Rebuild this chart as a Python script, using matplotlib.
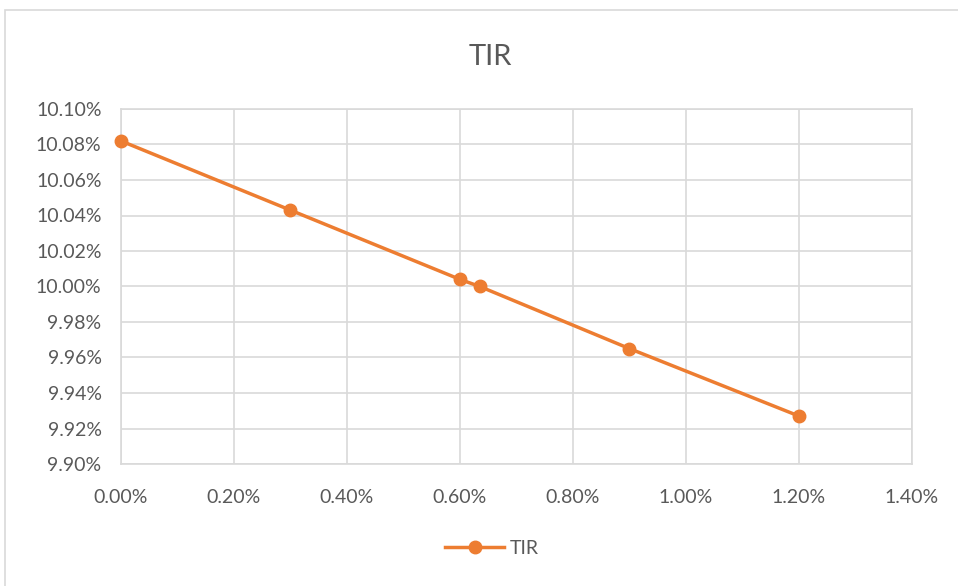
import matplotlib.pyplot as plt
from matplotlib.patches import Rectangle
from matplotlib.ticker import FuncFormatter

# data (percent)
x_vals = [0.00, 0.30, 0.60, 0.635, 0.90, 1.20]
tir_vals = [10.082, 10.043, 10.004, 10.000, 9.965, 9.927]
x_ticks = [0.0, 0.2, 0.4, 0.6, 0.8, 1.0, 1.2, 1.4]
y_ticks = [9.90, 9.92, 9.94, 9.96, 9.98, 10.00, 10.02, 10.04, 10.06, 10.08, 10.10]

ORANGE = "#ED7D31"
TEXT = "#595959"
GRID = "#D9D9D9"


def main():
    plt.rcParams["font.family"] = ["Lato", "DejaVu Sans"]

    W, H = 958, 586
    fig = plt.figure(figsize=(W / 100, H / 100), dpi=100)

    # outer chart border
    fig.patches.append(Rectangle((5 / W, -0.05), 1.1, 1 - 10 / H + 0.05,
                                 transform=fig.transFigure, fill=False,
                                 edgecolor=GRID, lw=1.2))

    ax = fig.add_axes([121 / W, 1 - 464 / H, (912 - 121) / W, (464 - 109) / H])
    ax.plot(x_vals, tir_vals, color=ORANGE, lw=2.5, marker="o", ms=9,
            label="TIR", zorder=3, clip_on=False)

    ax.set_xlim(0, 1.4)
    ax.set_ylim(9.90, 10.10)
    ax.set_xticks(x_ticks)
    ax.set_yticks(y_ticks)
    ax.xaxis.set_major_formatter(FuncFormatter(lambda v, p: f"{v:.2f}%"))
    ax.yaxis.set_major_formatter(FuncFormatter(lambda v, p: f"{v:.2f}%"))
    ax.tick_params(length=0, labelsize=14, colors=TEXT)
    ax.tick_params(axis="y", pad=14)
    ax.tick_params(axis="x", pad=18)
    ax.grid(True, color=GRID, lw=1.2)
    for spine in ax.spines.values():
        spine.set_color(GRID)
        spine.set_linewidth(1.2)
    ax.set_axisbelow(True)

    fig.text(490 / W, 1 - 57 / H, "TIR", ha="center", va="center",
             fontsize=21, color=TEXT)

    leg = ax.legend(loc="center", bbox_to_anchor=(492 / W, 1 - 548 / H),
                    bbox_transform=fig.transFigure, frameon=False,
                    fontsize=14, handlelength=3, handletextpad=0.3)
    for t in leg.get_texts():
        t.set_color(TEXT)

    fig.savefig("out.png", dpi=100)
    plt.close(fig)


if __name__ == "__main__":
    main()
